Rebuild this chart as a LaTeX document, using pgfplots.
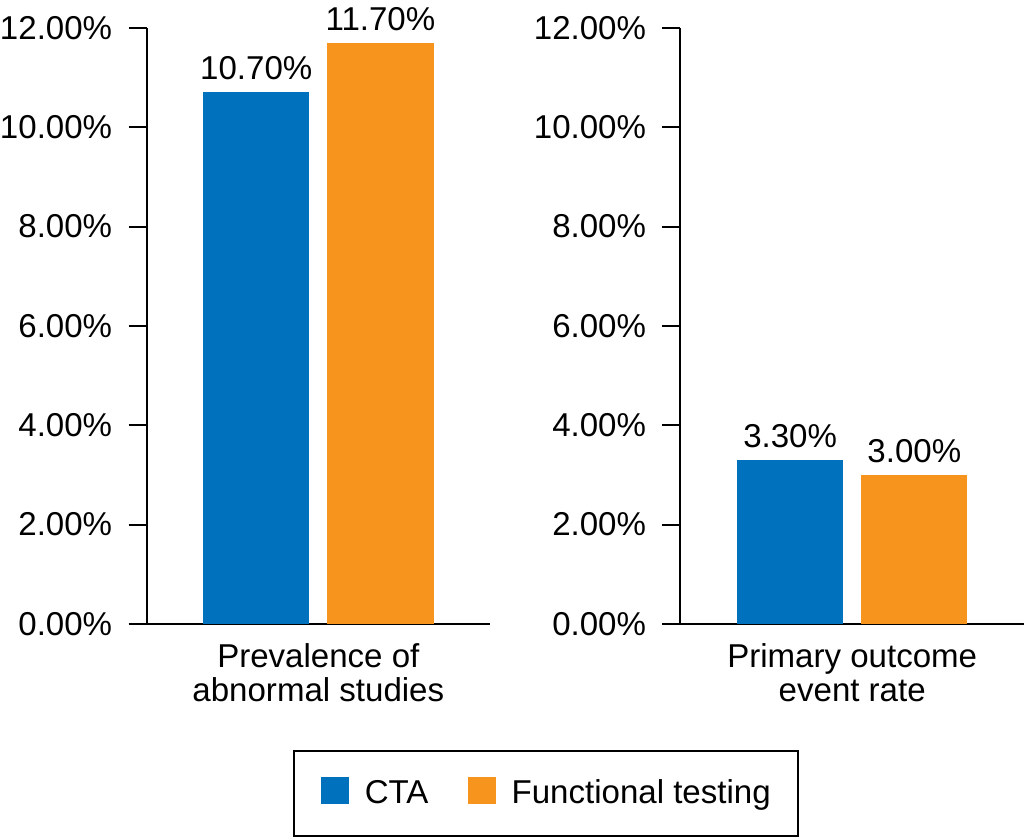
\documentclass[border=0pt]{standalone}
\usepackage{pgfplots}
\pgfplotsset{compat=1.18}
\usepackage{fontspec}
\setmainfont{Liberation Sans}
\definecolor{ctablue}{HTML}{0071BC}
\definecolor{funcorange}{HTML}{F7941D}
\begin{document}
\fontsize{16.5}{16.5}\selectfont
\begin{tikzpicture}
\pgfplotsset{
  panel/.style={
    scale only axis, width=171.5pt, height=297.5pt,
    xmin=-1, xmax=1, ymin=0, ymax=12,
    axis x line*=bottom, axis y line*=left,
    axis line style={line width=1pt},
    ytick={0,2,...,12}, xtick={0},
    major tick length=9pt, tick align=outside,
    y tick style={line width=1pt, black},
    x tick style={draw=none},
    yticklabel={\pgfmathprintnumber[fixed,fixed zerofill,precision=2]{\tick}\%},
    yticklabel style={inner sep=0pt, xshift=-8pt},
    /pgf/number format/assume math mode=true,
    ybar=9pt, bar width=53pt,
    nodes near coords={\pgfmathprintnumber[fixed,fixed zerofill,precision=2]{\pgfplotspointmeta}\%},
    nodes near coords style={inner ysep=3.5pt, yshift=2.5pt},
    xticklabel style={align=center, yshift=5pt, font=\fontsize{16.5}{17}\selectfont},
    legend image code/.code={\fill[##1] (0pt,-4.75pt) rectangle (14pt,8.75pt);},
  }
}
\begin{axis}[panel, at={(0pt,0pt)}, anchor=south west,
  xticklabels={{Prevalence of\\abnormal studies}},
  legend columns=2,
  legend style={at={(1.162,-0.285)}, anchor=center, draw=black, line width=1pt,
    inner xsep=13.5pt, inner ysep=13pt,
    nodes={inner sep=0pt, text height=12pt, text depth=3.5pt},
    /tikz/every odd column/.append style={column sep=8pt},
    /tikz/every even column/.append style={column sep=19.5pt}},
  ]
  \addplot[fill=ctablue, draw=none] coordinates {(0,10.7)};
  \addplot[fill=funcorange, draw=none] coordinates {(0,11.7)};
  \legend{CTA, Functional testing}
\end{axis}
\begin{axis}[panel, at={(266.5pt,0pt)}, anchor=south west,
  xticklabels={{Primary outcome\\event rate}},
  ]
  \addplot[fill=ctablue, draw=none] coordinates {(0,3.3)};
  \addplot[fill=funcorange, draw=none] coordinates {(0,3.0)};
\end{axis}
\end{tikzpicture}
\end{document}
